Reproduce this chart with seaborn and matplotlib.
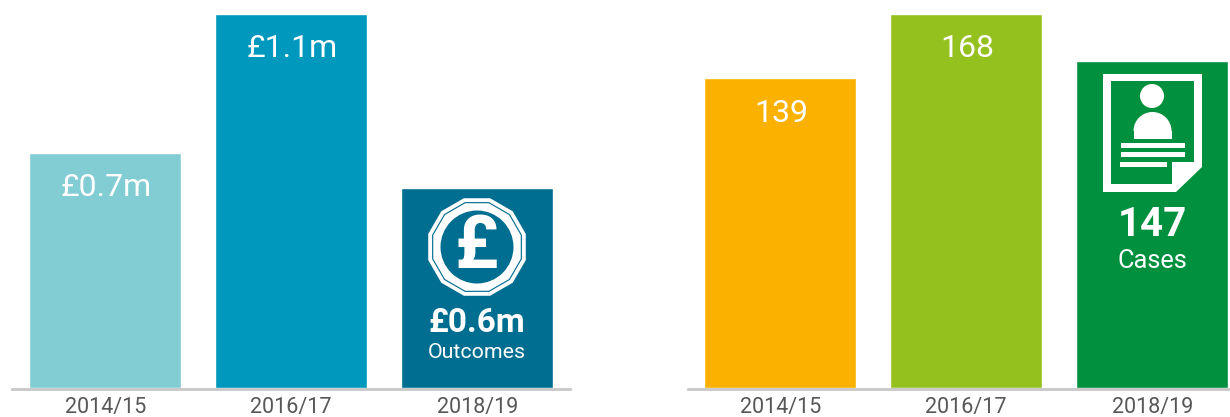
import matplotlib
matplotlib.use("Agg")
import matplotlib.pyplot as plt
import numpy as np
import pandas as pd
import seaborn as sns
from matplotlib.patches import Polygon, Circle, Rectangle, Wedge

years = ["2014/15", "2016/17", "2018/19"]
outcomes_m = [0.692, 1.10, 0.588]
outcome_labels = ["£0.7m", "£1.1m", None]
cases = [139, 168, 147]
case_labels = ["139", "168", None]

outcome_colors = ["#82CCD4", "#0098BD", "#006E90"]
case_colors = ["#FBB100", "#95C11F", "#00903E"]

W, H = 1230, 417
sns.set_theme(style="white")
plt.rcParams["font.family"] = ["Roboto", "DejaVu Sans"]
fig = plt.figure(figsize=(W / 100, H / 100), dpi=100)
TOP, BASE = 14.0, 387.5
GREY = "#575757"


def make_panel(x0, x1, centre0, values, labels, colors, ymax):
    ax = fig.add_axes([x0 / W, 1 - BASE / H, (x1 - x0) / W, (BASE - TOP) / H])
    df = pd.DataFrame({"year": years, "value": values})
    sns.barplot(data=df, x="year", y="value", hue="year", palette=colors,
                legend=False, width=151.6 / 186, saturation=1, ax=ax)
    ax.set_xlim((x0 - centre0) / 186, (x1 - centre0) / 186)
    ax.set_ylim(0, ymax)
    ax.set_xlabel("")
    ax.set_ylabel("")
    ax.set_yticks([])
    ax.tick_params(axis="x", length=0, pad=5.5, labelsize=15.5, labelcolor=GREY)
    sns.despine(ax=ax, left=True)
    ax.spines["bottom"].set_color("#C8C8C8")
    ax.spines["bottom"].set_linewidth(2)
    ax.spines["bottom"].set_position(("outward", 1))
    for i, (v, lab) in enumerate(zip(values, labels)):
        if lab:
            ax.annotate(lab, (i, v), xytext=(0.5, -31), textcoords="offset points",
                        ha="center", va="baseline", color="white", fontsize=23)
    return ax


make_panel(12, 570, 105.2, outcomes_m, outcome_labels, outcome_colors, 1.1)
make_panel(688, 1230, 780.2, cases, case_labels, case_colors, 168)

# overlay in pixel space for the icons and in-bar captions
ov = fig.add_axes([0, 0, 1, 1])
ov.set_xlim(0, W)
ov.set_ylim(H, 0)
ov.axis("off")
ov.patch.set_alpha(0)


def ngon(cx, cy, r, n=12):
    ang = np.pi / n + np.arange(n) * 2 * np.pi / n
    return np.column_stack([cx + r * np.cos(ang), cy + r * np.sin(ang)])


# coin icon
cx, cy = 477, 247
teal = outcome_colors[2]
ov.add_patch(Polygon(ngon(cx, cy, 50.5), fc="white", ec="none"))
ov.add_patch(Polygon(ngon(cx, cy, 46.5), fc=teal, ec="none"))
ov.add_patch(Polygon(ngon(cx, cy, 45.3), fc="white", ec="none"))
ov.add_patch(Circle((cx, cy), 36.5, fc=teal, ec="none"))
ov.text(cx - 1, cy + 1, "£", color="white", fontsize=53, fontweight="bold",
        ha="center", va="center")
ov.text(477, 323, "£0.6m", color="white", fontsize=24, fontweight="bold",
        ha="center", va="center")
ov.text(477, 352, "Outcomes", color="white", fontsize=15.4, ha="center", va="center")

# document icon
green = case_colors[2]
ov.add_patch(Polygon([(1103, 74), (1202, 74), (1202, 167), (1176, 192), (1103, 192)],
                     fc="white", ec="none"))
ov.add_patch(Polygon([(1111, 81), (1194, 81), (1194, 162), (1172, 162), (1172, 184),
                      (1111, 184)], fc=green, ec="none"))
ov.add_patch(Circle((1152, 96), 12, fc="white", ec="none"))
ov.add_patch(Wedge((1152.5, 131), 19, 180, 360, fc="white", ec="none"))
ov.add_patch(Rectangle((1133.5, 131), 38, 7.5, fc="white", ec="none"))
ov.add_patch(Rectangle((1121, 143), 64, 5, fc="white", ec="none"))
ov.add_patch(Rectangle((1121, 152), 64, 5, fc="white", ec="none"))
ov.add_patch(Rectangle((1120, 162), 47, 5, fc="white", ec="none"))
ov.text(1152, 224.5, "147", color="white", fontsize=29, fontweight="bold",
        ha="center", va="center")
ov.text(1152.5, 261, "Cases", color="white", fontsize=18.3, ha="center", va="center")

fig.savefig("out.png", dpi=100, facecolor="white")
